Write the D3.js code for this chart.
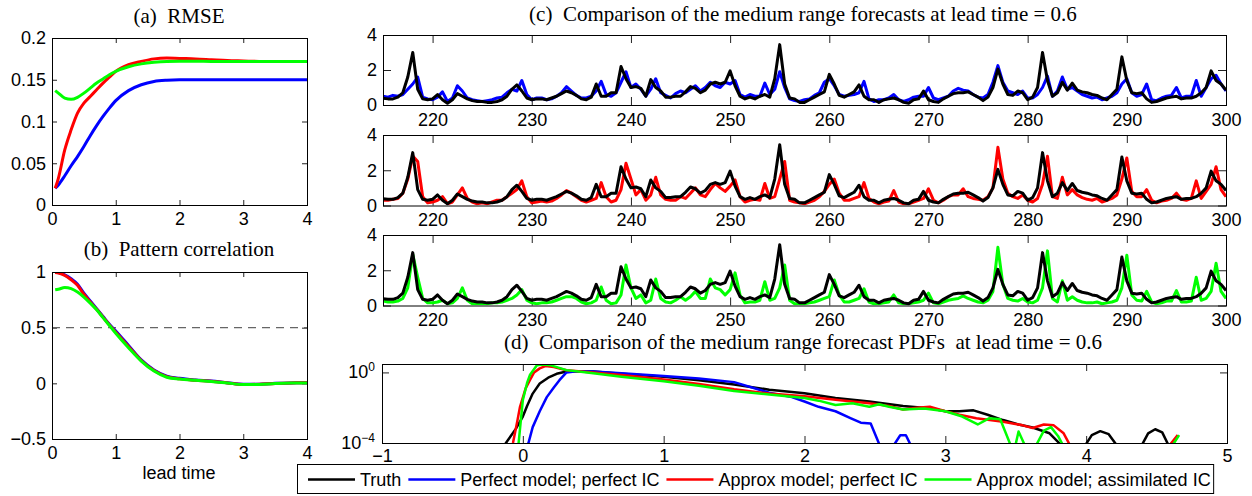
<!DOCTYPE html>
<html>
<head>
<meta charset="utf-8">
<script src="https://cdn.jsdelivr.net/npm/d3@7"></script>
<style>
  body { margin: 0; background: #fff; }
  svg { display: block; }
</style>
</head>
<body>
<svg id="fig" width="1252" height="496"></svg>
<script>
// ---------------------------------------------------------------
// Lead-time diagnostics, panels (a) and (b)
// ---------------------------------------------------------------
const leadTime = [0.05, 0.1, 0.2, 0.3, 0.4, 0.5, 0.6, 0.7, 0.8, 0.9, 1.0, 1.2, 1.4, 1.6, 1.8, 2.0, 2.25, 2.5, 2.75, 3.0, 3.25, 3.5, 3.75, 4.0];

const rmsePerfect = [0.020, 0.024, 0.035, 0.047, 0.058, 0.070, 0.083, 0.095, 0.106, 0.116, 0.125, 0.137, 0.144, 0.148, 0.1495, 0.150, 0.150, 0.150, 0.150, 0.150, 0.150, 0.150, 0.150, 0.150];
const rmseApprox  = [0.020, 0.032, 0.066, 0.090, 0.110, 0.122, 0.130, 0.138, 0.146, 0.153, 0.160, 0.168, 0.172, 0.175, 0.176, 0.1755, 0.175, 0.174, 0.173, 0.1725, 0.172, 0.172, 0.172, 0.172];
const rmseAssim   = [0.137, 0.134, 0.128, 0.1265, 0.129, 0.134, 0.140, 0.146, 0.151, 0.156, 0.160, 0.1655, 0.169, 0.171, 0.172, 0.1722, 0.1722, 0.172, 0.172, 0.172, 0.172, 0.172, 0.172, 0.172];

const corrPerfect = [1.0, 0.995, 0.975, 0.94, 0.89, 0.81, 0.74, 0.67, 0.60, 0.53, 0.47, 0.34, 0.21, 0.12, 0.065, 0.045, 0.03, 0.02, 0.005, -0.008, -0.008, 0.0, 0.004, 0.005];
const corrApprox  = [0.995, 0.99, 0.97, 0.93, 0.88, 0.80, 0.73, 0.665, 0.595, 0.525, 0.46, 0.33, 0.205, 0.115, 0.06, 0.04, 0.028, 0.018, 0.004, -0.01, -0.009, -0.001, 0.004, 0.005];
const corrAssim   = [0.84, 0.845, 0.86, 0.85, 0.82, 0.775, 0.72, 0.66, 0.59, 0.52, 0.45, 0.32, 0.20, 0.11, 0.055, 0.038, 0.027, 0.017, 0.003, -0.011, -0.01, -0.002, 0.003, 0.004];

const leadTicks = [0, 1, 2, 3, 4];
const rmseTicks = [0, 0.05, 0.1, 0.15, 0.2];
const corrTicks = [-0.5, 0, 0.5, 1];
const corrReference = 0.5;

// ---------------------------------------------------------------
// Medium range forecasts at lead time 0.6, panel (c): t = 215..300, dt = 0.5
// ---------------------------------------------------------------
const tStart = 215, tStep = 0.5;
const truth = [
  0.38, 0.35, 0.35, 0.45, 0.7, 1.6, 3.0, 0.9, 0.35, 0.3,
  0.35, 0.6, 0.3, 0.1, 0.3, 0.65, 0.5, 0.35, 0.25, 0.2,
  0.2, 0.15, 0.15, 0.2, 0.3, 0.5, 0.9, 1.15, 0.8, 0.4,
  0.3, 0.35, 0.35, 0.3, 0.4, 0.5, 0.65, 0.8, 0.7, 0.55,
  0.35, 0.3, 0.45, 1.2, 0.5, 0.5, 0.7, 0.7, 2.2, 1.5,
  1.0, 1.05, 0.95, 0.5, 1.45, 1.0, 0.8, 0.45, 0.45, 0.5,
  0.5, 0.75, 1.05, 0.95, 0.7, 0.85, 1.2, 1.3, 1.2, 1.3,
  1.95, 1.1, 0.5, 0.35, 0.45, 0.35, 0.5, 0.6, 0.45, 1.5,
  3.45, 1.2, 0.4, 0.35, 0.15, 0.15, 0.3, 0.45, 0.6, 0.75,
  1.75, 1.2, 0.55, 0.45, 0.6, 0.75, 1.15, 0.5, 0.3, 0.3,
  0.15, 0.3, 0.35, 0.4, 0.3, 0.15, 0.1, 0.3, 0.35, 0.8,
  0.3, 0.2, 0.15, 0.35, 0.5, 0.65, 0.7, 0.7, 0.75, 0.6,
  0.45, 0.25, 0.45, 1.0, 2.05, 1.2, 0.6, 0.55, 0.8, 0.7,
  0.3, 0.45, 1.0, 3.0, 1.4, 0.5, 0.7, 1.3, 0.85, 1.25,
  0.85, 0.75, 0.7, 0.6, 0.55, 0.4, 0.3, 0.6, 0.9, 2.75,
  1.4, 0.7, 0.65, 0.7, 0.35, 0.15, 0.2, 0.3, 0.4, 0.45,
  0.5, 0.35, 0.4, 0.4, 0.5, 0.7, 1.0, 1.95, 1.4, 1.2,
  0.85
];
const forecastPerfect = [
  0.5, 0.45, 0.55, 0.5, 0.6, 0.9, 1.2, 1.6, 0.45, 0.35,
  0.3, 0.45, 0.75, 0.2, 0.4, 1.1, 0.8, 0.4, 0.3, 0.25,
  0.2, 0.25, 0.3, 0.4, 0.45, 0.7, 0.9, 0.8, 1.4, 0.6,
  0.3, 0.4, 0.4, 0.3, 0.35, 0.5, 0.7, 1.05, 0.8, 0.55,
  0.4, 0.4, 0.5, 0.8, 1.35, 0.6, 0.5, 0.7, 1.3, 1.9,
  1.0, 1.2, 0.9, 0.5, 0.9, 1.5, 0.7, 0.55, 0.4, 0.65,
  0.8, 0.7, 0.9, 1.1, 0.8, 1.0, 1.3, 1.1, 1.0, 1.3,
  1.2, 1.4, 0.6, 0.45, 0.6, 0.5, 0.5, 1.25, 0.6, 0.9,
  1.9, 1.0, 0.35, 0.25, 0.2, 0.3, 0.35, 0.55, 0.7, 1.3,
  1.5, 1.1, 0.6, 0.5, 0.55, 0.6, 0.7, 1.35, 0.35, 0.2,
  0.3, 0.3, 0.4, 0.6, 0.3, 0.2, 0.3, 0.45, 0.5, 0.5,
  1.0, 0.4, 0.3, 0.4, 0.5, 0.8, 0.95, 0.85, 0.8, 0.6,
  0.45, 0.4, 0.6, 1.3, 2.25, 1.3, 0.8, 0.7, 0.6, 0.8,
  0.4, 0.4, 0.6, 1.0, 1.65, 0.5, 0.8, 1.6, 0.9, 1.0,
  0.8, 0.6, 0.5, 0.4, 0.45, 0.3, 0.4, 0.5, 0.7, 1.2,
  1.5, 0.7, 0.5, 0.6, 1.2, 0.3, 0.25, 0.4, 0.5, 0.55,
  1.0, 0.4, 0.5, 0.5, 1.4, 0.5, 1.0, 1.5, 1.7, 1.2,
  0.8
];
const forecastApprox = [
  0.3, 0.3, 0.35, 0.4, 0.7, 1.5, 2.8, 2.5, 0.5, 0.15,
  0.2, 0.3, 0.5, 0.1, 0.2, 0.6, 1.0, 0.4, 0.2, 0.1,
  0.15, 0.1, 0.2, 0.3, 0.3, 0.5, 0.7, 0.9, 1.4, 0.5,
  0.15, 0.2, 0.25, 0.2, 0.25, 0.4, 0.6, 0.85, 0.7, 0.5,
  0.3, 0.2, 0.3, 0.4, 1.3, 0.5, 0.2, 0.3, 0.9, 2.4,
  1.5, 0.6, 0.9, 0.3, 0.6, 1.6, 0.6, 0.35, 0.3, 0.3,
  0.5, 0.4, 0.7, 1.0, 0.6, 0.5, 0.9, 1.25, 1.0, 0.8,
  1.1, 1.45, 0.5, 0.2, 0.3, 0.35, 0.3, 1.25, 0.4, 0.5,
  1.5, 2.5, 0.3, 0.2, 0.15, 0.1, 0.2, 0.3, 0.5, 0.8,
  1.2, 1.5, 0.7, 0.3, 0.3, 0.4, 0.5, 1.3, 0.4, 0.2,
  0.1, 0.2, 0.25, 0.85, 0.2, 0.1, 0.1, 0.2, 0.3, 0.4,
  0.95, 0.3, 0.15, 0.3, 0.5, 0.6, 0.6, 0.95, 0.5, 0.4,
  0.35, 0.3, 0.5, 1.0, 3.3, 1.5, 0.7, 0.5, 0.4, 0.6,
  0.3, 0.2, 0.4, 1.2, 2.8, 0.5, 0.4, 1.6, 0.6, 0.9,
  0.6, 0.45, 0.35, 0.3, 0.4, 0.2, 0.3, 0.4, 0.6, 1.5,
  2.7, 0.8, 0.5, 0.5, 0.9, 0.3, 0.15, 0.25, 0.3, 0.4,
  0.7, 0.35, 0.3, 0.4, 1.4, 0.4, 0.8, 1.2, 2.2, 0.9,
  0.5
];
const forecastAssim = [
  0.25, 0.2, 0.2, 0.25, 0.4, 1.0, 2.9, 1.6, 0.4, 0.15,
  0.15, 0.2, 0.3, 0.1, 0.15, 0.4, 1.0, 0.3, 0.1, 0.1,
  0.1, 0.1, 0.15, 0.15, 0.2, 0.3, 0.4, 0.6, 0.9, 0.3,
  0.15, 0.1, 0.15, 0.15, 0.2, 0.3, 0.4, 0.5, 0.5, 0.4,
  0.2, 0.1, 0.15, 0.3, 1.05, 0.3, 0.1, 0.15, 0.6, 2.3,
  1.0, 0.4, 0.6, 0.15, 0.3, 1.5, 0.4, 0.2, 0.15, 0.3,
  0.5, 0.3, 0.5, 0.8, 0.4, 0.4, 1.5, 1.0, 0.9, 0.6,
  0.9, 1.85, 0.6, 0.15, 0.2, 0.2, 0.3, 1.35, 0.3, 0.4,
  1.0, 2.3, 0.3, 0.1, 0.1, 0.1, 0.15, 0.2, 0.3, 0.4,
  0.5, 1.45, 0.6, 0.2, 0.2, 0.3, 0.4, 0.95, 0.2, 0.1,
  0.1, 0.15, 0.2, 0.6, 0.15, 0.1, 0.1, 0.15, 0.2, 0.3,
  0.7, 0.15, 0.1, 0.2, 0.3, 0.35, 0.4, 0.55, 0.4, 0.3,
  0.2, 0.15, 0.3, 0.8, 3.3, 1.2, 0.4, 0.3, 0.25, 0.4,
  0.2, 0.15, 0.3, 1.0, 3.1, 0.4, 0.2, 1.4, 0.3, 0.5,
  0.3, 0.2, 0.15, 0.15, 0.2, 0.1, 0.15, 0.2, 0.3, 1.0,
  2.85, 0.6, 0.3, 0.25, 0.8, 0.2, 0.1, 0.15, 0.25, 0.25,
  0.85, 0.2, 0.2, 0.25, 1.6, 0.3, 0.4, 0.8, 2.4, 0.8,
  0.4
];
const timeTicks = [220, 230, 240, 250, 260, 270, 280, 290, 300];
const ampTicks = [0, 2, 4];

// ---------------------------------------------------------------
// Forecast PDFs at lead time 0.6, panel (d): [x, log10 density]
// ---------------------------------------------------------------
const pdfTruth = [
  [-0.2, -5], [-0.12, -4.0], [-0.05, -3.2], [0.0, -2.5], [0.03, -1.9], [0.07, -1.2], [0.12, -0.63],
  [0.18, -0.3], [0.24, -0.08], [0.31, 0.05], [0.4, 0.07], [0.5, 0.05], [0.7, -0.08], [1.0, -0.25],
  [1.25, -0.45], [1.5, -0.68], [1.75, -0.98], [2.0, -1.18], [2.22, -1.45], [2.46, -1.65], [2.7, -1.9],
  [2.9, -2.05], [3.0, -2.2], [3.1, -2.2], [3.2, -2.15], [3.3, -2.4], [3.41, -2.7], [3.52, -2.95],
  [3.62, -3.12], [3.74, -3.45], [3.82, -4.1], [3.88, -5], [3.97, -5], [4.0, -4.05], [4.04, -3.55],
  [4.1, -3.33], [4.16, -3.5], [4.21, -4.05], [4.25, -5], [4.37, -5], [4.4, -4.05], [4.44, -3.45],
  [4.49, -3.22], [4.54, -3.4], [4.58, -4.05], [4.62, -5]
];
const pdfPerfect = [
  [0.0, -5], [0.04, -4.0], [0.07, -3.1], [0.12, -2.2], [0.17, -1.4], [0.22, -0.85], [0.26, -0.44],
  [0.31, 0.0], [0.38, 0.06], [0.5, 0.05], [0.7, -0.05], [1.0, -0.2], [1.25, -0.35], [1.5, -0.55],
  [1.75, -1.15], [1.91, -1.4], [2.0, -1.65], [2.1, -1.95], [2.22, -2.2], [2.33, -2.6], [2.4, -2.85],
  [2.47, -2.9], [2.53, -4.05], [2.56, -5], [2.61, -5], [2.64, -4.05], [2.68, -3.56], [2.72, -3.56],
  [2.75, -4.05], [2.78, -5]
];
const pdfApprox = [
  [-0.1, -5], [-0.07, -4.0], [-0.04, -2.8], [-0.02, -1.95], [0.02, -0.9], [0.05, -0.44], [0.08, 0.0],
  [0.12, 0.23], [0.16, 0.36], [0.22, 0.3], [0.31, 0.12], [0.5, 0.0], [0.7, -0.15], [1.0, -0.4],
  [1.25, -0.65], [1.5, -0.95], [1.75, -1.2], [2.0, -1.35], [2.22, -1.55], [2.46, -1.75], [2.6, -1.9],
  [2.7, -2.1], [2.8, -2.0], [2.89, -1.95], [3.0, -2.2], [3.1, -2.4], [3.22, -2.6], [3.41, -2.8],
  [3.55, -3.0], [3.62, -3.15], [3.7, -2.95], [3.77, -3.0], [3.84, -3.45], [3.88, -4.05], [3.92, -5],
  [4.56, -5], [4.6, -4.05], [4.65, -3.55]
];
const pdfAssim = [
  [-0.07, -5], [-0.03, -4.0], [0.0, -1.57], [0.03, -0.6], [0.05, -0.15], [0.1, 0.41], [0.14, 0.45],
  [0.2, 0.4], [0.31, 0.13], [0.5, -0.05], [0.7, -0.25], [1.0, -0.5], [1.25, -0.75], [1.5, -1.05],
  [1.75, -1.25], [2.0, -1.45], [2.1, -1.6], [2.22, -1.85], [2.34, -1.75], [2.46, -1.95], [2.53, -1.8],
  [2.6, -1.95], [2.7, -2.1], [2.85, -2.05], [3.0, -2.2], [3.12, -2.5], [3.23, -2.95], [3.31, -2.6],
  [3.39, -2.65], [3.46, -4.05], [3.48, -5], [3.5, -4.05], [3.52, -3.35], [3.56, -4.05], [3.58, -5],
  [3.63, -5], [3.65, -4.05], [3.7, -3.3], [3.75, -3.1], [3.8, -3.6], [3.83, -4.05], [3.86, -5],
  [4.58, -5], [4.62, -4.05], [4.66, -3.55]
];
const pdfXTicks = [-1, 0, 1, 2, 3, 4, 5];
const pdfYTicks = [1e-4, 1];

// Legend
const seriesNames = ["Truth", "Perfect model; perfect IC", "Approx model; perfect IC", "Approx model; assimilated IC"];
const seriesColors = ["#000000", "#0000ff", "#ff0000", "#00ff00"];

// ---------------------------------------------------------------
const SANS = '"Liberation Sans", Arial, Helvetica, sans-serif';
const SERIF = '"Liberation Serif", "Times New Roman", Times, serif';
const svg = d3.select("#fig");
const defs = svg.append("defs");
let clipId = 0;

function styleAxis(sel) {
  sel.attr("font-size", null).attr("font-family", null);
  sel.select(".domain").remove();
  sel.selectAll(".tick line").attr("stroke", "#222").attr("stroke-width", 1);
  sel.selectAll(".tick text").attr("fill", "#000")
    .style("font-family", SANS).style("font-size", "18px");
}

// Boxed axes with inward ticks mirrored on all four sides
function boxAxes(x, y, o) {
  const g = svg.append("g");
  const [x0, x1] = x.range();
  const [y1, y0] = y.range();
  const L = o.tick;
  g.append("g").attr("transform", `translate(0,${y1})`)
    .call(d3.axisBottom(x).tickValues(o.xTicks).tickSize(-L).tickPadding(o.xPad).tickFormat(o.xFmt))
    .call(styleAxis);
  g.append("g").attr("transform", `translate(0,${y0})`)
    .call(d3.axisTop(x).tickValues(o.xTicks).tickSize(-L).tickFormat(() => ""))
    .call(styleAxis);
  g.append("g").attr("transform", `translate(${x0},0)`)
    .call(d3.axisLeft(y).tickValues(o.yTicks).tickSize(-L).tickPadding(o.yPad).tickFormat(o.yFmt))
    .call(styleAxis);
  g.append("g").attr("transform", `translate(${x1},0)`)
    .call(d3.axisRight(y).tickValues(o.yTicks).tickSize(-L).tickFormat(() => ""))
    .call(styleAxis);
  const id = "clip" + (clipId++);
  defs.append("clipPath").attr("id", id).append("rect")
    .attr("x", x0).attr("y", y0).attr("width", x1 - x0).attr("height", y1 - y0);
  const plot = svg.append("g").attr("clip-path", `url(#${id})`);
  svg.append("rect").attr("x", x0 + 0.5).attr("y", y0 + 0.5)
    .attr("width", x1 - x0).attr("height", y1 - y0)
    .attr("fill", "none").attr("stroke", "#000").attr("stroke-width", 1);
  return plot;
}

function title(text, cx, baseline, family, size) {
  svg.append("text").attr("x", cx).attr("y", baseline)
    .attr("text-anchor", "middle")
    .style("font-family", family).style("font-size", size + "px")
    .style("white-space", "pre").attr("fill", "#000")
    .text(text);
}

const numFmt = d => String(+d.toFixed(2)).replace("-", "\u2212");

// ---------------- (a) RMSE ----------------
{
  const x = d3.scaleLinear().domain([0, 4]).range([52, 307]);
  const y = d3.scaleLinear().domain([0, 0.2]).range([205, 38]);
  const plot = boxAxes(x, y, { tick: 5, xTicks: leadTicks, yTicks: rmseTicks, xPad: 7, yPad: 6, xFmt: numFmt, yFmt: numFmt });
  const line = d3.line().x((d, i) => x(leadTime[i])).y(d => y(d)).curve(d3.curveMonotoneX);
  [[rmsePerfect, seriesColors[1]], [rmseApprox, seriesColors[2]], [rmseAssim, seriesColors[3]]].forEach(([s, c]) =>
    plot.append("path").datum(s).attr("d", line).attr("fill", "none")
      .attr("stroke", c).attr("stroke-width", 3).attr("stroke-linejoin", "round"));
  title("(a)  RMSE", 179, 23, SERIF, 21);
}

// ---------------- (b) Pattern correlation ----------------
{
  const x = d3.scaleLinear().domain([0, 4]).range([52, 307]);
  const y = d3.scaleLinear().domain([-0.5, 1]).range([439, 272]);
  const plot = boxAxes(x, y, { tick: 5, xTicks: leadTicks, yTicks: corrTicks, xPad: 7, yPad: 6, xFmt: numFmt, yFmt: numFmt });
  plot.append("line").attr("x1", x(0)).attr("x2", x(4))
    .attr("y1", y(corrReference)).attr("y2", y(corrReference))
    .attr("stroke", "#666").attr("stroke-width", 1.3).attr("stroke-dasharray", "8,6");
  const line = d3.line().x((d, i) => x(leadTime[i])).y(d => y(d)).curve(d3.curveMonotoneX);
  [[corrPerfect, seriesColors[1]], [corrApprox, seriesColors[2]], [corrAssim, seriesColors[3]]].forEach(([s, c]) =>
    plot.append("path").datum(s).attr("d", line).attr("fill", "none")
      .attr("stroke", c).attr("stroke-width", 3).attr("stroke-linejoin", "round"));
  title("(b)  Pattern correlation", 179, 256, SERIF, 21);
  title("lead time", 179, 479, SANS, 18);
}

// ---------------- (c) Forecast time series ----------------
{
  const x = d3.scaleLinear().domain([215, 300]).range([383, 1226]);
  const rows = [[35, 105, forecastPerfect, seriesColors[1]],
                [135, 205.5, forecastApprox, seriesColors[2]],
                [235, 305.5, forecastAssim, seriesColors[3]]];
  rows.forEach(([top, bottom, fc, col]) => {
    const y = d3.scaleLinear().domain([0, 4]).range([bottom, top]);
    const plot = boxAxes(x, y, { tick: 8, xTicks: timeTicks, yTicks: ampTicks, xPad: 8, yPad: 6, xFmt: numFmt, yFmt: numFmt });
    const line = d3.line().x((d, i) => x(tStart + i * tStep)).y(d => y(d));
    plot.append("path").datum(fc).attr("d", line).attr("fill", "none")
      .attr("stroke", col).attr("stroke-width", 3).attr("stroke-linejoin", "round");
    plot.append("path").datum(truth).attr("d", line).attr("fill", "none")
      .attr("stroke", seriesColors[0]).attr("stroke-width", 3).attr("stroke-linejoin", "round");
  });
  title("(c)  Comparison of the medium range forecasts at lead time = 0.6", 803, 21, SERIF, 21);
}

// ---------------- (d) Forecast PDFs ----------------
{
  const x = d3.scaleLinear().domain([-1, 5]).range([382, 1227]);
  const y = d3.scaleLog().domain([1e-4, 3]).range([443, 364]);
  const plot = boxAxes(x, y, { tick: 7, xTicks: pdfXTicks, yTicks: pdfYTicks, xPad: 6, yPad: 6, xFmt: numFmt, yFmt: () => "" });
  // power-of-ten labels
  pdfYTicks.forEach(v => {
    const e = Math.round(Math.log10(v));
    const t = svg.append("text").attr("x", 375).attr("y", y(v) + 6)
      .attr("text-anchor", "end").style("font-family", SANS).style("font-size", "18px").attr("fill", "#000");
    t.append("tspan").text("10");
    t.append("tspan").attr("dy", -7).style("font-size", "12px").text(e === 0 ? "0" : "\u2212" + Math.abs(e));
  });
  const line = d3.line().x(d => x(d[0])).y(d => y(Math.pow(10, d[1])));
  [pdfTruth, pdfPerfect, pdfApprox, pdfAssim].forEach((s, k) =>
    plot.append("path").datum(s).attr("d", line).attr("fill", "none")
      .attr("stroke", seriesColors[k]).attr("stroke-width", 2.5).attr("stroke-linejoin", "round"));
  title("(d)  Comparison of the medium range forecast PDFs  at lead time = 0.6", 803, 349, SERIF, 21);
}

// ---------------- Legend ----------------
{
  const lg = svg.append("g");
  const box = lg.append("rect").attr("x", 297.5).attr("y", 464.5).attr("height", 29)
    .attr("fill", "#fff").attr("stroke", "#000").attr("stroke-width", 1);
  let cx = 308;
  const ly = 479.5;
  seriesNames.forEach((name, k) => {
    lg.append("line").attr("x1", cx).attr("x2", cx + 47).attr("y1", ly).attr("y2", ly)
      .attr("stroke", seriesColors[k]).attr("stroke-width", 2.5);
    const t = lg.append("text").attr("x", cx + 52).attr("y", 486)
      .style("font-family", SANS).style("font-size", "18px").attr("fill", "#000").text(name);
    cx += 52 + t.node().getComputedTextLength() + 7;
  });
  box.attr("width", cx - 297.5 - 4);
}
</script>
</body>
</html>
